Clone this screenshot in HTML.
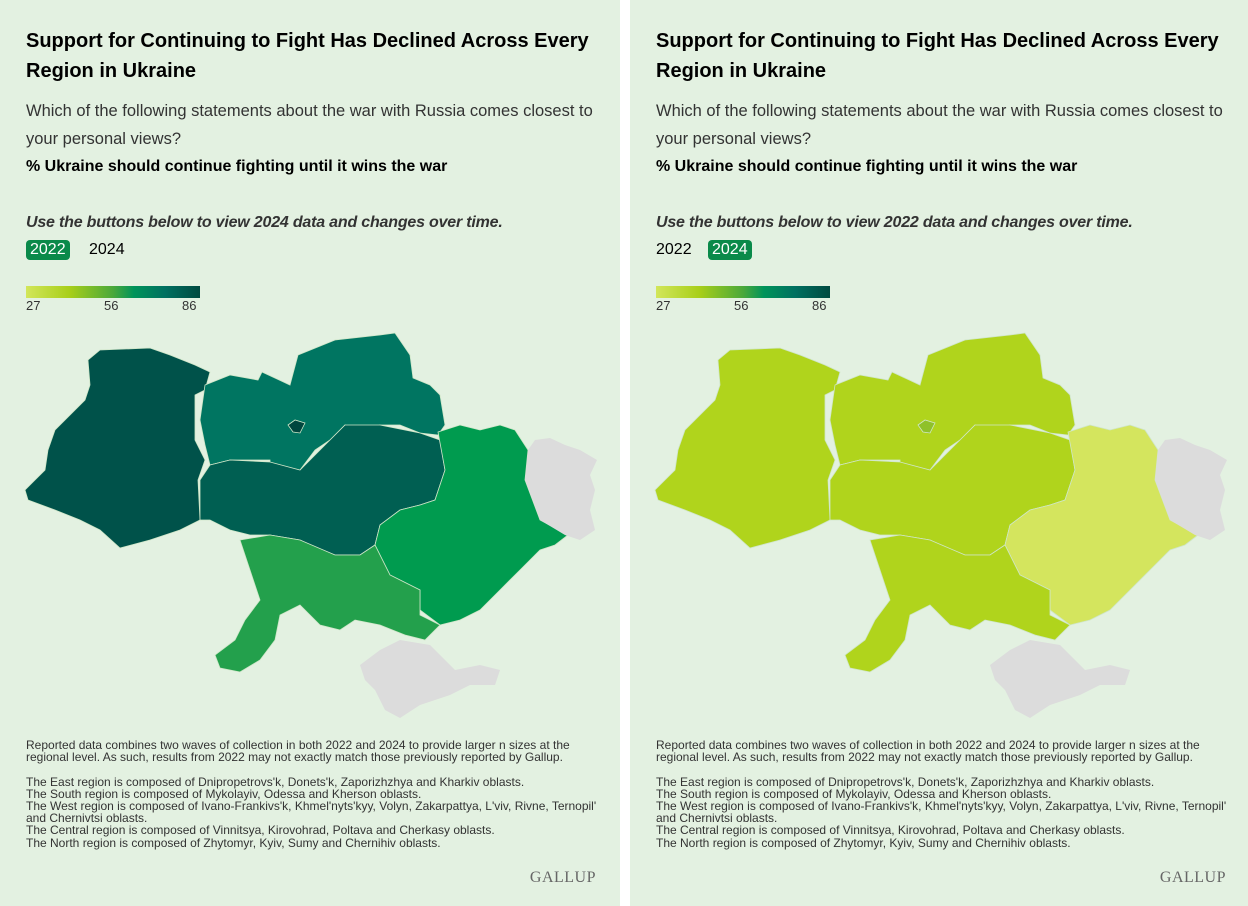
<!DOCTYPE html><html><head><style>
body{margin:0;width:1248px;height:906px;background:#fff;font-family:"Liberation Sans",sans-serif;position:relative;overflow:hidden}
.p{position:absolute;top:0;width:620px;height:906px;background:#e3f1e1;color:#222}
.t{position:absolute;left:26px;top:26px;font-size:20px;font-weight:bold;line-height:30px;width:580px}
.q{position:absolute;left:26px;top:97px;font-size:16.5px;line-height:28px;width:575px;color:#333}
.b{position:absolute;left:26px;top:158px;font-size:16px;font-weight:bold}
.i{position:absolute;left:26px;top:214px;font-size:16px;font-style:italic;font-weight:bold;color:#333;letter-spacing:-0.2px}
.btn{position:absolute;top:240px;font-size:16px;height:20px;line-height:20px;padding:0 4px;border-radius:4px}
.on{background:#0a8a4a;color:#fff}
.bar{position:absolute;left:26px;top:286px;width:174px;height:12px;background:linear-gradient(90deg,#d2e65a,#a8cf1a 25%,#4aa83a 50%,#00945a 62%,#007060 80%,#004a40)}
.lab{position:absolute;top:298px;font-size:13px;color:#333}
.f{position:absolute;left:26px;top:739px;font-size:12px;line-height:12.2px;width:575px;color:#333}
.g{position:absolute;right:24px;top:869px;font-family:"Liberation Serif",serif;font-size:16px;color:#666;letter-spacing:0.5px}
svg{position:absolute;left:0;top:0}
</style></head><body>
<div class="p" style="left:0"></div><div class="p" style="left:630px"></div>
<svg width="1248" height="906">
<defs>
<path id="W" d="M88,360 100,350 150,348 170,355 195,365 210,372 205,390 195,395 195,440 205,460 198,480 200,520 180,530 150,540 120,548 100,530 80,520 55,510 28,500 25,490 35,480 45,470 48,450 55,430 85,400 90,385Z"/>
<path id="N" d="M205,385 230,375 258,380 262,372 290,385 298,355 335,340 380,335 395,333 410,355 413,378 430,385 440,395 445,425 438,435 420,433 400,425 380,425 360,430 345,425 330,440 315,450 300,470 270,470 270,460 250,460 230,460 210,465 205,445 200,420Z"/>
<path id="C" d="M210,465 230,460 270,462 300,470 325,445 345,425 380,425 420,433 440,440 445,470 435,500 420,505 400,510 380,525 375,545 360,555 335,555 310,545 300,540 270,535 250,535 230,530 210,520 200,520 200,480Z"/>
<path id="E" d="M438,432 460,425 480,430 500,425 515,430 528,450 525,480 540,520 568,535 555,545 540,550 520,570 500,590 480,610 460,620 440,625 420,610 420,590 400,580 390,575 375,545 380,525 400,510 420,505 435,500 445,470Z"/>
<path id="S" d="M240,540 270,535 300,540 335,555 360,555 375,545 390,575 420,590 420,615 440,625 425,640 405,635 380,625 355,620 340,630 320,625 300,605 280,615 275,640 260,660 240,672 220,668 215,655 235,640 245,620 260,600 250,570Z"/>
<path id="G" d="M528,450 535,440 550,438 565,445 580,450 597,460 590,475 595,490 590,510 595,530 580,540 565,535 540,520 525,480Z M360,665 380,650 400,640 430,645 445,660 455,670 480,665 500,670 495,685 470,685 450,695 420,705 400,718 385,710 375,690 365,680Z"/>
<path id="K" d="M288,425 295,420 305,423 300,433 293,432Z"/>
</defs>
<g stroke="#cfe6c8" stroke-width="0.8">
<use href="#W" fill="#00524a"/><use href="#N" fill="#007561"/><use href="#C" fill="#005f52"/><use href="#E" fill="#009b4f"/><use href="#S" fill="#23a04c"/>
<use href="#K" fill="#00463e"/><use href="#G" fill="#dcdcdc" stroke="none"/>
<g transform="translate(630,0)">
<use href="#W" fill="#b0d41c"/><use href="#N" fill="#b0d41c"/><use href="#C" fill="#b0d41c"/><use href="#E" fill="#d4e55e"/><use href="#S" fill="#b0d41c"/>
<use href="#K" fill="#8fc12a"/><use href="#G" fill="#dcdcdc" stroke="none"/>
</g></g>
</svg>
<div style="position:absolute;left:0;top:0;width:620px;height:906px">
<div class="t">Support for Continuing to Fight Has Declined Across Every Region in Ukraine</div>
<div class="q">Which of the following statements about the war with Russia comes closest to your personal views?</div>
<div class="b">% Ukraine should continue fighting until it wins the war</div>
<div class="i">Use the buttons below to view 2024 data and changes over time.</div>
<div class="btn on" style="left:26px">2022</div><div class="btn" style="left:85px">2024</div>
<div class="bar"></div><div class="lab" style="left:26px">27</div><div class="lab" style="left:104px">56</div><div class="lab" style="left:182px">86</div>
<div class="f">Reported data combines two waves of collection in both 2022 and 2024 to provide larger n sizes at the regional level. As such, results from 2022 may not exactly match those previously reported by Gallup.<br><br>The East region is composed of Dnipropetrovs'k, Donets'k, Zaporizhzhya and Kharkiv oblasts.<br>The South region is composed of Mykolayiv, Odessa and Kherson oblasts.<br>The West region is composed of Ivano-Frankivs'k, Khmel'nyts'kyy, Volyn, Zakarpattya, L'viv, Rivne, Ternopil' and Chernivtsi oblasts.<br>The Central region is composed of Vinnitsya, Kirovohrad, Poltava and Cherkasy oblasts.<br>The North region is composed of Zhytomyr, Kyiv, Sumy and Chernihiv oblasts.</div>
<div class="g">GALLUP</div></div>
<div style="position:absolute;left:630px;top:0;width:620px;height:906px">
<div class="t">Support for Continuing to Fight Has Declined Across Every Region in Ukraine</div>
<div class="q">Which of the following statements about the war with Russia comes closest to your personal views?</div>
<div class="b">% Ukraine should continue fighting until it wins the war</div>
<div class="i">Use the buttons below to view 2022 data and changes over time.</div>
<div class="btn" style="left:22px">2022</div><div class="btn on" style="left:78px">2024</div>
<div class="bar"></div><div class="lab" style="left:26px">27</div><div class="lab" style="left:104px">56</div><div class="lab" style="left:182px">86</div>
<div class="f">Reported data combines two waves of collection in both 2022 and 2024 to provide larger n sizes at the regional level. As such, results from 2022 may not exactly match those previously reported by Gallup.<br><br>The East region is composed of Dnipropetrovs'k, Donets'k, Zaporizhzhya and Kharkiv oblasts.<br>The South region is composed of Mykolayiv, Odessa and Kherson oblasts.<br>The West region is composed of Ivano-Frankivs'k, Khmel'nyts'kyy, Volyn, Zakarpattya, L'viv, Rivne, Ternopil' and Chernivtsi oblasts.<br>The Central region is composed of Vinnitsya, Kirovohrad, Poltava and Cherkasy oblasts.<br>The North region is composed of Zhytomyr, Kyiv, Sumy and Chernihiv oblasts.</div>
<div class="g">GALLUP</div></div>
</body></html>
